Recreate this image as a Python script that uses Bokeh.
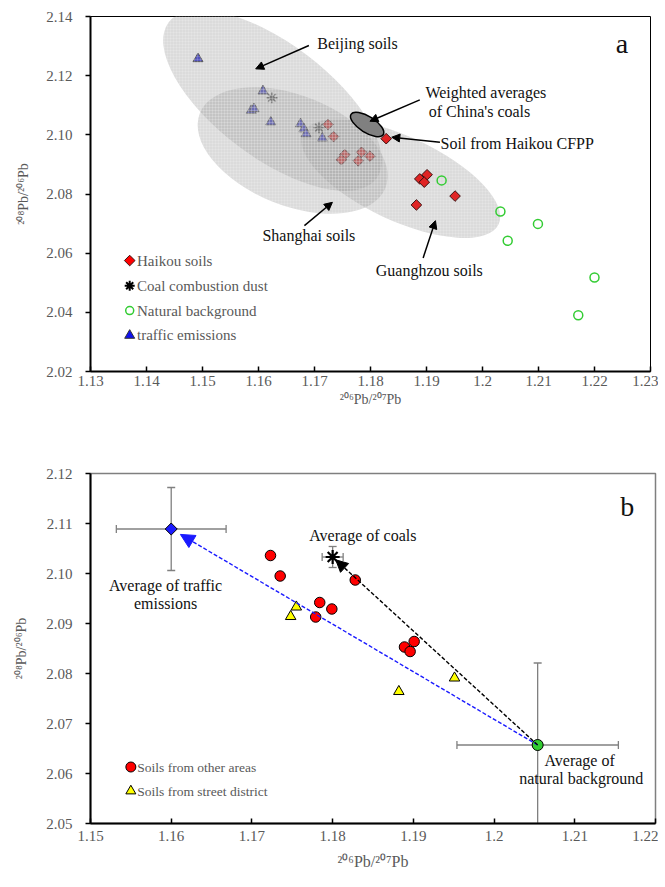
import math
from bokeh.plotting import figure
from bokeh.layouts import column
from bokeh.models import Range1d, FixedTicker, CustomJSTickFormatter, Label, Arrow, NormalHead
from bokeh.embed import file_html
from bokeh.resources import INLINE

# ---------------- Panel a data ----------------
haikou_x = [1.1724, 1.1734, 1.1754, 1.1748, 1.1784, 1.1799, 1.1778, 1.1828, 1.1888, 1.1901, 1.1896, 1.1951, 1.1882]
haikou_y = [2.1035, 2.0994, 2.0933, 2.0916, 2.0941, 2.0928, 2.0912, 2.0987, 2.0851, 2.0865, 2.0840, 2.0793, 2.0763]
coal_dust_x = [1.1624, 1.1708]
coal_dust_y = [2.1125, 2.1024]
natural_x = [1.1927, 1.2032, 1.2045, 1.2099, 1.2200, 1.2171]
natural_y = [2.0846, 2.0741, 2.0642, 2.0699, 2.0518, 2.0390]
traffic_x = [1.1492, 1.1608, 1.1587, 1.1592, 1.1622, 1.1675, 1.1681, 1.1685, 1.1714]
traffic_y = [2.1257, 2.1148, 2.1082, 2.1088, 2.1043, 2.1037, 2.1020, 2.1003, 2.0989]

# soil regions (centres, data units)
region_names = ["Beijing soils", "Shanghai soils", "Guanghzou soils"]
region_cx = [1.1625, 1.1661, 1.1854]
region_cy = [2.1116, 2.0947, 2.0852]
coal_region_cx = [1.1794]
coal_region_cy = [2.1035]

xa_ticks = [1.13, 1.14, 1.15, 1.16, 1.17, 1.18, 1.19, 1.20, 1.21, 1.22, 1.23]
ya_ticks = [2.02, 2.04, 2.06, 2.08, 2.10, 2.12, 2.14]

# ---------------- Panel b data ----------------
other_x = [1.1723, 1.1735, 1.1784, 1.1799, 1.1779, 1.1828, 1.1889, 1.1901, 1.1896]
other_y = [2.1036, 2.0995, 2.0942, 2.0929, 2.0913, 2.0987, 2.0853, 2.0864, 2.0844]
street_x = [1.1755, 1.1748, 1.1882, 1.1951]
street_y = [2.0933, 2.0914, 2.0764, 2.0791]

avg_names = ["traffic emissions", "coals", "natural background"]
avg_x = [1.1600, 1.1800, 1.2054]
avg_y = [2.1089, 2.1033, 2.0657]
err_x = [0.0068, 0.0013, 0.0100]
err_y = [0.0083, 0.0021, 0.0164]

xb_ticks = [1.15, 1.16, 1.17, 1.18, 1.19, 1.20, 1.21, 1.22]
yb_ticks = [2.05, 2.06, 2.07, 2.08, 2.09, 2.10, 2.11, 2.12]

X_TITLE = "\u00b2\u2070\u2076Pb/\u00b2\u2070\u2077Pb"
Y_TITLE = "\u00b2\u2070\u2078Pb/\u00b2\u2070\u2076Pb"

FONT = "Liberation Serif"
AXIS_TXT = "#595959"
INK = "#111111"


def style_axes(p, xt, yt, x_standoff):
    xa = p.xaxis[0]
    ya = p.yaxis[0]
    xa.ticker = FixedTicker(ticks=xt)
    ya.ticker = FixedTicker(ticks=yt)
    xa.formatter = CustomJSTickFormatter(code="return String(parseFloat(tick.toFixed(2)));")
    ya.formatter = CustomJSTickFormatter(code="return tick.toFixed(2);")
    for ax in (xa, ya):
        ax.axis_line_color = "black"
        ax.axis_line_width = 2
        ax.major_tick_line_color = "black"
        ax.major_tick_line_width = 1.5
        ax.minor_tick_line_color = None
        ax.major_label_text_font = FONT
        ax.major_label_text_font_size = "15px"
        ax.major_label_text_color = AXIS_TXT
        ax.axis_label_text_font = FONT
        ax.axis_label_text_font_style = "normal"
        ax.axis_label_text_color = AXIS_TXT
    xa.major_tick_in = 5
    xa.major_tick_out = 0
    xa.major_label_standoff = x_standoff
    ya.major_tick_in = 0
    ya.major_tick_out = 5
    ya.major_label_standoff = 13
    p.xgrid.visible = False
    p.ygrid.visible = False


def note(p, x, y, text, size="16px", align="left", color=INK):
    p.add_layout(Label(x=x, y=y, text=text, text_font=FONT, text_font_size=size,
                       text_color=color, text_align=align, text_baseline="middle"))


# ====================== Panel a ======================
pa = figure(frame_width=560, frame_height=355, x_range=Range1d(1.13, 1.23), y_range=Range1d(2.02, 2.14),
            min_border_left=90, min_border_right=8, min_border_top=16, min_border_bottom=59,
            output_backend="svg", toolbar_location=None, tools="")
style_axes(pa, xa_ticks, ya_ticks, 4)
pa.outline_line_color = "black"
pa.outline_line_width = 1
pa.xaxis[0].axis_label = X_TITLE
pa.xaxis[0].axis_label_text_font_size = "14px"
pa.xaxis[0].axis_label_standoff = 3
pa.yaxis[0].axis_label = Y_TITLE
pa.yaxis[0].axis_label_text_font_size = "14px"
pa.yaxis[0].axis_label_standoff = 12

ell_kw = dict(width_units="screen", height_units="screen", fill_color="#9a9a9a", fill_alpha=0.36,
              line_color=None, hatch_pattern="+", hatch_color="white", hatch_alpha=0.3,
              hatch_scale=3, hatch_weight=0.5)
region_w = [260, 200, 216]
region_h = [114, 110, 84]
region_ang = [-37, -22, -25]

# Guangzhou region under the points
pa.ellipse(x=[region_cx[2]], y=[region_cy[2]], width=region_w[2], height=region_h[2],
           angle=math.radians(region_ang[2]), **ell_kw)

pa.scatter(haikou_x, haikou_y, marker="square", angle=math.pi / 4, size=7.5,
           fill_color="#e02424", line_color="#3b1111", line_width=1)
pa.scatter(coal_dust_x, coal_dust_y, marker="asterisk", size=11, line_color="#4a4a4a", line_width=1.6)
pa.scatter(natural_x, natural_y, marker="circle", size=9, fill_color=None, line_color="#33cc33", line_width=1.5)
pa.scatter(traffic_x, traffic_y, marker="triangle", size=10, fill_color="#2b2bd0", line_color="#333333", line_width=1)

# Beijing and Shanghai regions over the points
for i in (0, 1):
    pa.ellipse(x=[region_cx[i]], y=[region_cy[i]], width=region_w[i], height=region_h[i],
               angle=math.radians(region_ang[i]), **ell_kw)

pa.ellipse(x=coal_region_cx, y=coal_region_cy, width=38, height=16, angle=math.radians(-32),
           width_units="screen", height_units="screen", fill_color="#808080", line_color="black", line_width=1.5)

arrows_a = [
    (1.1690, 2.1302, 1.1595, 2.1223),
    (1.1888, 2.1118, 1.1799, 2.1046),
    (1.1924, 2.0975, 1.1838, 2.0992),
    (1.1682, 2.0693, 1.1732, 2.0772),
    (1.1894, 2.0584, 1.1916, 2.0710),
]
for xs, ys, xe, ye in arrows_a:
    pa.add_layout(Arrow(end=NormalHead(size=8, fill_color="black", line_color="black", line_width=1),
                        x_start=xs, y_start=ys, x_end=xe, y_end=ye, line_color="black", line_width=1.5))

note(pa, 1.1705, 2.1309, region_names[0])
note(pa, 1.1898, 2.1143, "Weighted averages")
note(pa, 1.1904, 2.1079, "of China's coals")
note(pa, 1.1925, 2.0971, "Soil from Haikou CFPP")
note(pa, 1.1607, 2.0660, region_names[1])
note(pa, 1.1905, 2.0541, region_names[2], align="center")
note(pa, 1.2249, 2.1309, "a", size="28px", align="center")

# legend a
leg_a_x = 1.1370
leg_a_tx = 1.1383
leg_a_y = [2.0575, 2.0490, 2.0406, 2.0322]
pa.scatter([leg_a_x], [leg_a_y[0]], marker="square", angle=math.pi / 4, size=7.5,
           fill_color="#ff0000", line_color="#3b1111", line_width=1)
pa.scatter([leg_a_x], [leg_a_y[1]], marker="asterisk", size=10, line_color="black", line_width=2)
pa.scatter([leg_a_x], [leg_a_y[2]], marker="circle", size=8, fill_color=None, line_color="#33cc33", line_width=1.5)
pa.scatter([leg_a_x], [leg_a_y[3]], marker="triangle", size=10, fill_color="#1010ee", line_color="#333333", line_width=1)
for lab, ly in zip(["Haikou soils", "Coal combustion dust", "Natural background", "traffic emissions"], leg_a_y):
    note(pa, leg_a_tx, ly, lab, size="15px", color=AXIS_TXT)

# ====================== Panel b ======================
pb = figure(frame_width=565, frame_height=350, x_range=Range1d(1.15, 1.22), y_range=Range1d(2.05, 2.12),
            min_border_left=90, min_border_right=3, min_border_top=43, min_border_bottom=56,
            output_backend="svg", toolbar_location=None, tools="")
style_axes(pb, xb_ticks, yb_ticks, 7)
pb.outline_line_color = "#7f7f7f"
pb.outline_line_width = 1.5
pb.xaxis[0].axis_label = X_TITLE
pb.xaxis[0].axis_label_text_font_size = "16px"
pb.xaxis[0].axis_label_standoff = 9
pb.yaxis[0].axis_label = Y_TITLE
pb.yaxis[0].axis_label_text_font_size = "14px"
pb.yaxis[0].axis_label_standoff = 14

EB = "#808080"
hx0 = [x - e for x, e in zip(avg_x, err_x)]
hx1 = [x + e for x, e in zip(avg_x, err_x)]
vy0 = [y - e for y, e in zip(avg_y, err_y)]
vy1 = [y + e for y, e in zip(avg_y, err_y)]
pb.segment(x0=hx0, y0=avg_y, x1=hx1, y1=avg_y, line_color=EB, line_width=1.3)
pb.segment(x0=avg_x, y0=vy0, x1=avg_x, y1=vy1, line_color=EB, line_width=1.3)
pb.scatter(hx0 + hx1, avg_y + avg_y, marker="dash", angle=math.pi / 2, size=8, line_color=EB, line_width=1.3)
pb.scatter(avg_x + avg_x, vy0 + vy1, marker="dash", size=8, line_color=EB, line_width=1.3)

pb.scatter(other_x, other_y, marker="circle", size=10.5, fill_color="#ff0000", line_color="black", line_width=1)
pb.scatter(street_x, street_y, marker="triangle", size=10.5, fill_color="#ffff00", line_color="black", line_width=1)

# mixing lines from the natural background to traffic / coal averages
for k, col, hs, frac in [(0, "#1a1aff", 14, 0.975), (1, "black", 12, 0.985)]:
    xe = avg_x[2] + (avg_x[k] - avg_x[2]) * frac
    ye = avg_y[2] + (avg_y[k] - avg_y[2]) * frac
    pb.add_layout(Arrow(end=NormalHead(size=hs, fill_color=col, line_color=col, line_width=1),
                        x_start=avg_x[2], y_start=avg_y[2], x_end=xe, y_end=ye,
                        line_color=col, line_width=1.4, line_dash="4 2"))

pb.scatter([avg_x[0]], [avg_y[0]], marker="square", angle=math.pi / 4, size=8.5,
           fill_color="#1a1aff", line_color="black", line_width=1)
pb.scatter([avg_x[1]], [avg_y[1]], marker="asterisk", size=14, line_color="black", line_width=2.2)
pb.scatter([avg_x[2]], [avg_y[2]], marker="circle", size=11, fill_color="#33cc33", line_color="black", line_width=1)

note(pb, 1.1593, 2.0976, "Average of traffic", align="center")
note(pb, 1.1593, 2.0940, "emissions", align="center")
note(pb, 1.1771, 2.1076, "Average of coals")
note(pb, 1.2106, 2.0626, "Average of", align="center")
note(pb, 1.2108, 2.0590, "natural background", align="center")
note(pb, 1.2165, 2.1134, "b", size="28px", align="center")

leg_b_x = 1.1550
leg_b_tx = 1.1558
leg_b_y = [2.0613, 2.0565]
pb.scatter([leg_b_x], [leg_b_y[0]], marker="circle", size=10, fill_color="#ff0000", line_color="black", line_width=1)
pb.scatter([leg_b_x], [leg_b_y[1]], marker="triangle", size=10, fill_color="#ffff00", line_color="black", line_width=1)
note(pb, leg_b_tx, leg_b_y[0], "Soils from other areas", size="13.5px", color=AXIS_TXT)
note(pb, leg_b_tx, leg_b_y[1], "Soils from street district", size="13.5px", color=AXIS_TXT)

layout = column(pa, pb)
open("out.html", "w").write(file_html(layout, INLINE))
